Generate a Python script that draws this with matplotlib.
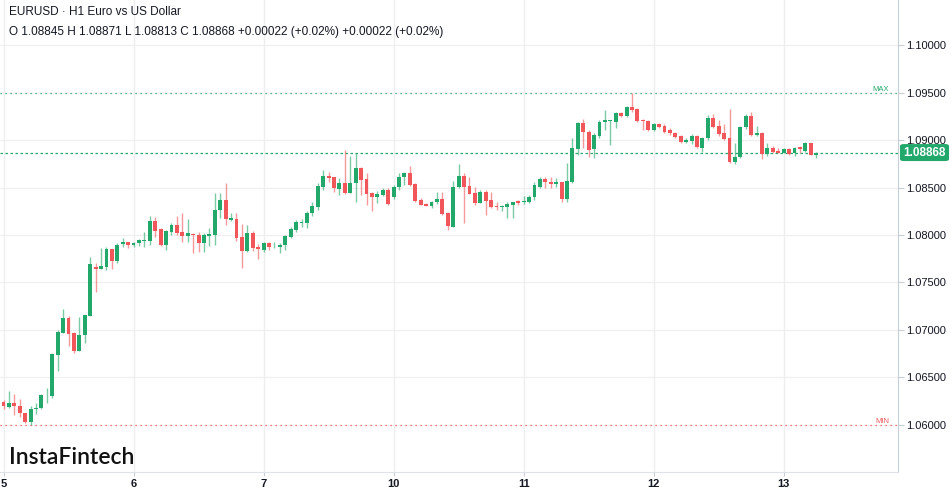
import matplotlib.pyplot as plt
import numpy as np
from matplotlib.patches import FancyBboxPatch

# hourly candles, first one is the last hour of the previous session
opens = [1.06190, 1.06245, 1.06190, 1.06232, 1.06200, 1.06126, 1.06032, 1.06168, 1.06179, 1.06311,
         1.06305, 1.06737, 1.06968, 1.07126, 1.06968, 1.06779, 1.06947, 1.07147, 1.07663, 1.07642,
         1.07663, 1.07853, 1.07726, 1.07905, 1.07926, 1.07895, 1.07916, 1.07937, 1.07937, 1.08147,
         1.08063, 1.07895, 1.08032, 1.08105, 1.08032, 1.07989, 1.08011, 1.08000, 1.07919, 1.07989,
         1.08000, 1.08263, 1.08368, 1.08158, 1.08168, 1.07979, 1.07835, 1.08024, 1.07874, 1.07842,
         1.07919, 1.07870, 1.07874, 1.07895, 1.07982, 1.08053, 1.08130, 1.08130, 1.08232, 1.08298,
         1.08509, 1.08621, 1.08608, 1.08481, 1.08551, 1.08445, 1.08544, 1.08702, 1.08587, 1.08439,
         1.08397, 1.08421, 1.08474, 1.08400, 1.08502, 1.08608, 1.08656, 1.08537, 1.08368, 1.08326,
         1.08309, 1.08351, 1.08376, 1.08228, 1.08087, 1.08509, 1.08621, 1.08516, 1.08445, 1.08340,
         1.08456, 1.08368, 1.08305, 1.08298, 1.08298, 1.08316, 1.08361, 1.08347, 1.08351, 1.08400,
         1.08509, 1.08590, 1.08561, 1.08540, 1.08555, 1.08379, 1.08555, 1.08905, 1.09176, 1.09087,
         1.08905, 1.09045, 1.09193, 1.09200, 1.09193, 1.09281, 1.09256, 1.09351, 1.09326, 1.09211,
         1.09200, 1.09105, 1.09165, 1.09151, 1.09105, 1.09071, 1.09045, 1.08976, 1.08989, 1.09045,
         1.08919, 1.09018, 1.09228, 1.09147, 1.09077, 1.09018, 1.08772, 1.08818, 1.09134, 1.09253,
         1.09053, 1.09077, 1.08853, 1.08913, 1.08887, 1.08866, 1.08902, 1.08860, 1.08923, 1.08887,
         1.08965, 1.08845]
highs = [1.06316, 1.06263, 1.06361, 1.06326, 1.06274, 1.06130, 1.06200, 1.06232, 1.06326, 1.06390,
         1.06761, 1.07000, 1.07221, 1.07147, 1.06982, 1.07140, 1.07158, 1.07772, 1.07705, 1.07863,
         1.07877, 1.07856, 1.07919, 1.07968, 1.07930, 1.07929, 1.07958, 1.08035, 1.08200, 1.08190,
         1.08074, 1.08053, 1.08130, 1.08200, 1.08235, 1.08165, 1.08021, 1.08035, 1.08018, 1.08071,
         1.08445, 1.08445, 1.08544, 1.08235, 1.08235, 1.08116, 1.08105, 1.08045, 1.07905, 1.07929,
         1.07929, 1.07929, 1.07913, 1.08000, 1.08087, 1.08158, 1.08165, 1.08256, 1.08351, 1.08551,
         1.08684, 1.08667, 1.08614, 1.08597, 1.08895, 1.08832, 1.08867, 1.08719, 1.08650, 1.08456,
         1.08466, 1.08492, 1.08492, 1.08526, 1.08656, 1.08667, 1.08727, 1.08551, 1.08386, 1.08333,
         1.08361, 1.08456, 1.08456, 1.08245, 1.08572, 1.08747, 1.08650, 1.08608, 1.08509, 1.08474,
         1.08474, 1.08456, 1.08351, 1.08316, 1.08351, 1.08351, 1.08368, 1.08411, 1.08421, 1.08561,
         1.08611, 1.08614, 1.08614, 1.08597, 1.08561, 1.08755, 1.09024, 1.09193, 1.09221, 1.09105,
         1.09071, 1.09211, 1.09316, 1.09211, 1.09298, 1.09298, 1.09361, 1.09495, 1.09334, 1.09221,
         1.09211, 1.09176, 1.09176, 1.09165, 1.09123, 1.09087, 1.09053, 1.09018, 1.09060, 1.09053,
         1.09035, 1.09263, 1.09274, 1.09211, 1.09168, 1.09323, 1.08972, 1.09147, 1.09274, 1.09298,
         1.09147, 1.09087, 1.08972, 1.08937, 1.08913, 1.08913, 1.08913, 1.08923, 1.08937, 1.08982,
         1.08972, 1.08871]
lows = [1.06158, 1.06168, 1.06179, 1.06105, 1.06084, 1.06021, 1.06005, 1.06116, 1.06168, 1.06232,
        1.06284, 1.06572, 1.06968, 1.06832, 1.06758, 1.06779, 1.06863, 1.07147, 1.07403, 1.07642,
        1.07632, 1.07642, 1.07705, 1.07877, 1.07863, 1.07877, 1.07884, 1.07877, 1.07895, 1.07982,
        1.07884, 1.07842, 1.08000, 1.08000, 1.07929, 1.07929, 1.07810, 1.07824, 1.07824, 1.07884,
        1.07895, 1.08176, 1.08105, 1.08151, 1.07940, 1.07649, 1.07824, 1.07835, 1.07744, 1.07824,
        1.07842, 1.07860, 1.07807, 1.07842, 1.07965, 1.08035, 1.08087, 1.08071, 1.08200, 1.08263,
        1.08474, 1.08561, 1.08456, 1.08421, 1.08432, 1.08439, 1.08351, 1.08421, 1.08316, 1.08256,
        1.08333, 1.08411, 1.08316, 1.08376, 1.08474, 1.08526, 1.08516, 1.08351, 1.08316, 1.08305,
        1.08281, 1.08326, 1.08211, 1.08053, 1.08081, 1.08492, 1.08130, 1.08432, 1.08316, 1.08333,
        1.08211, 1.08281, 1.08263, 1.08256, 1.08176, 1.08176, 1.08316, 1.08326, 1.08333, 1.08368,
        1.08495, 1.08495, 1.08492, 1.08509, 1.08351, 1.08351, 1.08544, 1.08842, 1.08913, 1.08824,
        1.08807, 1.09018, 1.09105, 1.08947, 1.09123, 1.09245, 1.09245, 1.09298, 1.09193, 1.09105,
        1.09095, 1.09095, 1.09130, 1.09071, 1.09053, 1.09024, 1.08965, 1.08965, 1.08955, 1.08913,
        1.08877, 1.09000, 1.09123, 1.09042, 1.09000, 1.08755, 1.08747, 1.08807, 1.09113, 1.09042,
        1.09042, 1.08797, 1.08832, 1.08866, 1.08860, 1.08860, 1.08842, 1.08832, 1.08866, 1.08877,
        1.08842, 1.08813]
closes = [1.06284, 1.06200, 1.06232, 1.06200, 1.06126, 1.06032, 1.06168, 1.06179, 1.06316, 1.06316,
          1.06748, 1.06982, 1.07126, 1.06958, 1.06779, 1.06947, 1.07158, 1.07695, 1.07642, 1.07674,
          1.07853, 1.07726, 1.07895, 1.07926, 1.07895, 1.07919, 1.07947, 1.07940, 1.08147, 1.08042,
          1.07895, 1.08042, 1.08105, 1.08021, 1.07989, 1.08021, 1.08000, 1.07916, 1.08000, 1.08011,
          1.08263, 1.08368, 1.08168, 1.08179, 1.07968, 1.07832, 1.08024, 1.07863, 1.07853, 1.07919,
          1.07874, 1.07877, 1.07895, 1.07989, 1.08063, 1.08140, 1.08140, 1.08235, 1.08305, 1.08516,
          1.08621, 1.08597, 1.08492, 1.08551, 1.08445, 1.08551, 1.08702, 1.08579, 1.08432, 1.08403,
          1.08432, 1.08474, 1.08326, 1.08509, 1.08608, 1.08650, 1.08526, 1.08361, 1.08316, 1.08305,
          1.08351, 1.08376, 1.08221, 1.08095, 1.08509, 1.08621, 1.08509, 1.08432, 1.08340, 1.08456,
          1.08361, 1.08298, 1.08298, 1.08305, 1.08326, 1.08351, 1.08340, 1.08361, 1.08403, 1.08526,
          1.08590, 1.08555, 1.08540, 1.08555, 1.08379, 1.08569, 1.08913, 1.09176, 1.09087, 1.08895,
          1.09053, 1.09186, 1.09211, 1.09211, 1.09281, 1.09256, 1.09351, 1.09316, 1.09200, 1.09200,
          1.09105, 1.09165, 1.09140, 1.09087, 1.09071, 1.09035, 1.08976, 1.09000, 1.09045, 1.08929,
          1.09024, 1.09228, 1.09140, 1.09063, 1.09007, 1.08772, 1.08824, 1.09140, 1.09253, 1.09053,
          1.09077, 1.08853, 1.08913, 1.08877, 1.08866, 1.08902, 1.08853, 1.08913, 1.08902, 1.08965,
          1.08846, 1.08868]

day_starts = [0, 24, 48, 72, 96, 120, 144]
day_labels = ['5', '6', '7', '10', '11', '12', '13']
price_ticks = [1.060, 1.065, 1.070, 1.075, 1.080, 1.085, 1.090, 1.095, 1.100]

title = 'EURUSD \u00b7 H1 Euro vs US Dollar'
ohlc_line = 'O 1.08845 H 1.08871 L 1.08813 C 1.08868 +0.00022 (+0.02%) +0.00022 (+0.02%)'

up = '#23a86b'
down = '#f0565a'
plt.rcParams['font.family'] = ['Liberation Sans', 'DejaVu Sans']

o = np.array(opens); h = np.array(highs); l = np.array(lows); c = np.array(closes)
x = np.arange(len(o)) - 1
cols = np.where(c >= o, up, down)

fig = plt.figure(figsize=(9.52, 4.94), dpi=100)
ax = fig.add_axes([0, 22 / 494, 898 / 952, 472 / 494])

ax.vlines(x, l, h, colors=cols, linewidth=1, alpha=0.6, zorder=2)
body = np.maximum(np.abs(c - o), 0.00007)
ax.bar(x, body, bottom=np.minimum(o, c), width=0.72, color=cols, linewidth=0, zorder=3)

ax.set_xlim(-0.65, 165.1)
ax.set_ylim(1.05505, 1.10474)

for p in price_ticks:
    ax.axhline(p, color='#f0f0f0', linewidth=1, zorder=0)
for d in day_starts:
    ax.axvline(d, color='#eeeeee', linewidth=1, zorder=0)

ax.yaxis.tick_right()
ax.set_yticks(price_ticks)
ax.set_yticklabels([f'{p:.5f}' for p in price_ticks], fontsize=8, color='#131722')
ax.set_xticks(day_starts)
ax.set_xticklabels(day_labels, fontsize=8, color='#131722', fontweight='bold')
ax.tick_params(axis='y', length=4, color='#c8cdd6', pad=2)
ax.tick_params(axis='x', length=3, color='#c8cdd6', pad=2)
for s in ['top', 'left']:
    ax.spines[s].set_visible(False)
ax.spines['right'].set_color('#c8cdd6')
ax.spines['bottom'].set_color('#dfe2e8')

# max / min / last price markers
hi = h.max(); lo = l.min(); last = c[-1]
ax.axhline(hi, color=up, linestyle=(0, (1, 3)), linewidth=0.9, zorder=1)
ax.axhline(lo, color=down, linestyle=(0, (1, 3)), linewidth=0.9, zorder=1)
ax.axhline(last, color=up, linestyle=(0, (2, 2)), linewidth=0.9, zorder=1)
ax.text(0.99, hi, 'MAX', transform=ax.get_yaxis_transform(), fontsize=5.5, color=up,
        ha='right', va='bottom')
ax.text(0.99, lo, 'MIN', transform=ax.get_yaxis_transform(), fontsize=5.5, color=down,
        ha='right', va='bottom')

lab_y = ax.transData.transform((0, last))[1] / fig.bbox.height
fig.patches.append(FancyBboxPatch((900 / 952, lab_y - 8.5 / 494), 49 / 952, 17 / 494,
                                  boxstyle='round,pad=0,rounding_size=0.004',
                                  transform=fig.transFigure, facecolor=up, edgecolor='none',
                                  zorder=5))
fig.text(924.5 / 952, lab_y, f'{last:.5f}', color='white', fontsize=8.5, fontweight='bold',
         ha='center', va='center', zorder=6)

fig.text(9 / 952, 1 - 12 / 494, title, fontsize=8.5, color='#131722', va='center')
fig.text(9 / 952, 1 - 32 / 494, ohlc_line, fontsize=8.5, color='#131722', va='center')
fig.text(9 / 952, 1 - 457 / 494, 'InstaFintech', fontsize=16.5, color='#111111',
         family=['Lato', 'DejaVu Sans'], fontweight='semibold', va='center')

fig.savefig('out.png', dpi=100, facecolor='white')
